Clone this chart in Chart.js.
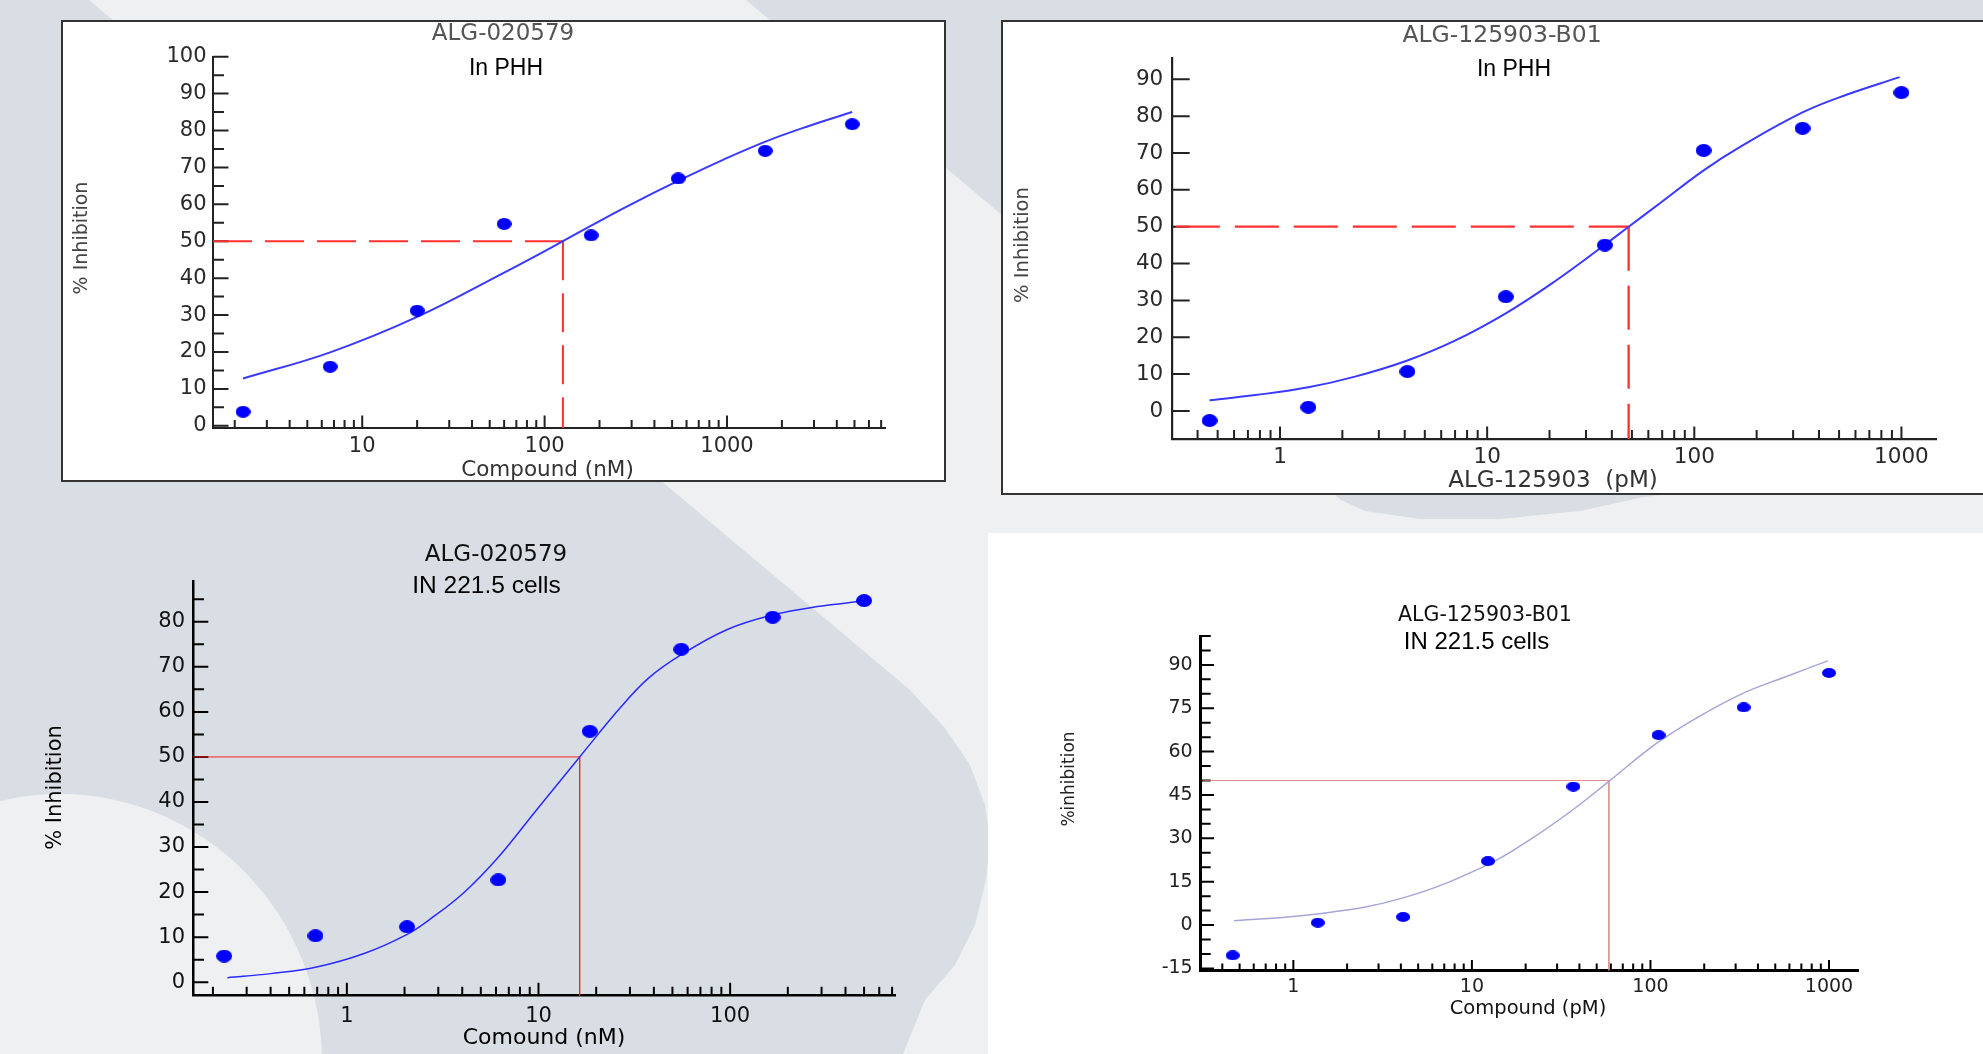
<!DOCTYPE html>
<html>
<head>
<meta charset="utf-8">
<title>Dose-response curves</title>
<script src="https://cdn.jsdelivr.net/npm/chart.js@4.4.1/dist/chart.umd.min.js"></script>
<style>
html, body { margin:0; padding:0; }
body { width:1983px; height:1054px; position:relative; overflow:hidden; background:#eff0f1; }
.shape { position:absolute; left:0; top:0; width:1983px; height:1054px; background:#d9dee4; }
.frame { position:absolute; box-sizing:border-box; border:2px solid #333; background:#fff; }
.plate { position:absolute; background:#fff; }
canvas { position:absolute; }
</style>
</head>
<body>
<div class="shape" style="clip-path:polygon(0 0,89px 0,910px 690px,945px 728px,970px 765px,985px 805px,990px 840px,986px 880px,975px 925px,955px 965px,925px 1000px,903px 1054px,0 1054px);"></div>
<div class="shape" style="clip-path:polygon(746px 0,1983px 0,1983px 480px,1700px 490px,1644px 497px,1580px 511px,1500px 519px,1420px 519px,1365px 511px,1341px 500px);"></div>
<div class="shape" style="left:-202px;top:794px;width:524px;height:536px;border-radius:50%;background:#eff0f1;"></div>
<div class="frame" style="left:61px;top:20px;width:885px;height:462px;"></div>
<div class="frame" style="left:1001px;top:20px;width:1000px;height:475px;"></div>
<div class="plate" style="left:988px;top:533px;width:995px;height:521px;"></div>
<script>
// ================= DATA =================
// Panel 1 : ALG-020579 in PHH
const p1Title = 'ALG-020579';
const p1Sub = 'In PHH';
const p1XTitle = 'Compound (nM)';
const p1YTitle = '% Inhibition';
const p1Conc  = [2.22, 6.67, 20, 60, 180, 540, 1620, 4860];
const p1Inhib = [3.8, 16.0, 31.2, 54.7, 51.6, 67.0, 74.5, 81.7];
const p1FitConc  = [2.22, 6.67, 20, 60, 126, 181, 282, 542, 944, 1625, 2760, 4860];
const p1FitInhib = [12.8, 19.9, 29.5, 41.5, 50.0, 54.3, 59.4, 66.4, 72.0, 77.0, 81.1, 85.0];
const p1IC50 = 126;
const p1XTickLabels = [10, 100, 1000];
const p1YTickLabels = [0, 10, 20, 30, 40, 50, 60, 70, 80, 90, 100];

// Panel 2 : ALG-125903-B01 in PHH
const p2Title = 'ALG-125903-B01';
const p2Sub = 'In PHH';
const p2XTitle = 'ALG-125903  (pM)';
const p2YTitle = '% Inhibition';
const p2Conc  = [0.457, 1.37, 4.12, 12.3, 37, 111, 333, 1000];
const p2Inhib = [-2.6, 1.0, 10.7, 31.0, 45.0, 70.7, 76.7, 86.4];
const p2FitConc  = [0.457, 0.76, 1.37, 2.3, 4.12, 6.95, 12.3, 21, 36.6, 48.2, 68, 111, 168, 333, 543, 980];
const p2FitInhib = [2.9, 4.3, 6.4, 9.3, 13.7, 19.0, 26.5, 35.0, 44.9, 50.0, 56.3, 65.3, 71.8, 81.0, 85.8, 90.6];
const p2IC50 = 48.2;
const p2XTickLabels = [1, 10, 100, 1000];
const p2YTickLabels = [0, 10, 20, 30, 40, 50, 60, 70, 80, 90];

// Panel 3 : ALG-020579 in 221.5 cells
const p3Title = 'ALG-020579';
const p3Sub = 'IN 221.5 cells';
const p3XTitle = 'Comound (nM)';
const p3YTitle = '% Inhibition';
const p3Conc  = [0.229, 0.686, 2.06, 6.17, 18.5, 55.6, 166.7, 500];
const p3Inhib = [5.8, 10.3, 12.3, 22.7, 55.7, 73.9, 81.0, 84.7];
const p3FitConc  = [0.238, 0.40, 0.686, 1.22, 2.04, 2.72, 4.06, 6.1, 9.67, 16.4, 26.7, 37.5, 55.1, 96.7, 166, 286, 498];
const p3FitInhib = [1.0, 1.9, 3.3, 6.3, 10.5, 14.0, 19.8, 27.5, 38.0, 50.0, 60.9, 67.5, 72.6, 78.3, 81.5, 83.4, 84.6];
const p3IC50 = 16.4;
const p3XTickLabels = [1, 10, 100];
const p3YTickLabels = [0, 10, 20, 30, 40, 50, 60, 70, 80];

// Panel 4 : ALG-125903-B01 in 221.5 cells
const p4Title = 'ALG-125903-B01';
const p4Sub = 'IN 221.5 cells';
const p4XTitle = 'Compound (pM)';
const p4YTitle = '%inhibition';
const p4Conc  = [0.457, 1.37, 4.12, 12.3, 37, 111, 333, 1000];
const p4Inhib = [-10.5, 0.8, 2.8, 22.1, 47.9, 65.7, 75.3, 87.2];
const p4FitConc  = [0.466, 1.355, 4.07, 12.1, 21.7, 36.6, 59, 109, 183, 325, 577, 984];
const p4FitInhib = [1.5, 3.8, 9.3, 20.7, 30.0, 39.8, 49.9, 63.0, 71.8, 80.0, 86.0, 91.4];
const p4IC50 = 58.5;
const p4XTickLabels = [1, 10, 100, 1000];
const p4YTickLabels = [-15, 0, 15, 30, 45, 60, 75, 90];

const halfLevel = 50;

// ================= HELPERS =================
function logTicks(min, max) {
  const out = [];
  for (let e = Math.floor(Math.log10(min)); e <= Math.ceil(Math.log10(max)); e++) {
    for (let m = 1; m <= 9; m++) {
      const v = +(m * Math.pow(10, e)).toPrecision(6);
      if (v >= min && v <= max) out.push(v);
    }
  }
  return out;
}
function linTicks(min, max, step) {
  const out = [];
  for (let v = Math.ceil(min / step) * step; v <= max + 1e-9; v += step) out.push(+v.toFixed(6));
  return out;
}
function ellipse(w, h, color) {
  const c = document.createElement('canvas');
  c.width = w; c.height = h;
  const g = c.getContext('2d');
  g.fillStyle = color;
  g.beginPath();
  g.ellipse(w / 2, h / 2, w / 2, h / 2, 0, 0, Math.PI * 2);
  g.fill();
  return c;
}

const innerTicks = {
  id: 'innerTicks',
  beforeDatasetsDraw(chart, args, o) {
    const ctx = chart.ctx, a = chart.chartArea, xs = chart.scales.x, ys = chart.scales.y;
    ctx.save();
    ctx.strokeStyle = o.color; ctx.lineWidth = o.width; ctx.lineCap = 'butt';
    ctx.beginPath();
    ys.ticks.forEach(t => {
      const p = ys.getPixelForValue(t.value);
      const L = t.major ? o.yMajor : o.yMinor;
      ctx.moveTo(a.left, p); ctx.lineTo(a.left + L, p);
    });
    xs.ticks.forEach(t => {
      const p = xs.getPixelForValue(t.value);
      const L = t.major ? o.xMajor : o.xMinor;
      ctx.moveTo(p, a.bottom); ctx.lineTo(p, a.bottom - L);
    });
    ctx.stroke();
    ctx.restore();
  }
};

const textItems = {
  id: 'textItems',
  afterDraw(chart, args, o) {
    const ctx = chart.ctx;
    (o.items || []).forEach(t => {
      ctx.save();
      ctx.font = t.font; ctx.fillStyle = t.color;
      ctx.textAlign = 'center'; ctx.textBaseline = 'middle';
      ctx.translate(t.x, t.y);
      if (t.rot) ctx.rotate(t.rot * Math.PI / 180);
      ctx.fillText(t.text, 0, 0);
      ctx.restore();
    });
  }
};

function panel(P) {
  const cv = document.createElement('canvas');
  cv.width = P.box[2]; cv.height = P.box[3];
  cv.style.left = P.box[0] + 'px'; cv.style.top = P.box[1] + 'px';
  cv.style.width = P.box[2] + 'px'; cv.style.height = P.box[3] + 'px';
  document.body.appendChild(cv);
  const xt = logTicks(P.xMin, P.xMax);
  const yt = linTicks(P.yMin, P.yMax, P.yStep);
  const tickFont = { family: 'DejaVu Sans', size: P.tickSize };
  new Chart(cv, {
    type: 'scatter',
    data: {
      datasets: [
        { data: P.conc.map((c, i) => ({ x: c, y: P.inhib[i] })),
          pointStyle: ellipse(P.dot[0], P.dot[1], P.dotColor), pointRadius: P.dot[0] / 2,
          backgroundColor: P.dotColor, borderWidth: 0 },
        { type: 'line', data: P.fitConc.map((c, i) => ({ x: c, y: P.fitInhib[i] })),
          borderColor: P.curveColor, borderWidth: P.curveWidth, pointRadius: 0,
          tension: 0.4, fill: false },
        { type: 'line', data: [{ x: P.xMin, y: halfLevel }, { x: P.ic50, y: halfLevel }],
          borderColor: P.refColor, borderWidth: P.refWidth, borderDash: P.refDash,
          pointRadius: 0, fill: false },
        { type: 'line', data: [{ x: P.ic50, y: halfLevel }, { x: P.ic50, y: P.yMin }],
          borderColor: P.refColor2 || P.refColor, borderWidth: P.refWidth, borderDash: P.refDash,
          pointRadius: 0, fill: false }
      ]
    },
    options: {
      responsive: false, animation: false, events: [],
      layout: { padding: { left: 0, top: P.padT, right: P.padR, bottom: 0 } },
      plugins: {
        legend: { display: false }, tooltip: { enabled: false }, title: { display: false },
        innerTicks: P.tickMarks,
        textItems: { items: P.texts }
      },
      scales: {
        x: {
          type: 'logarithmic', position: 'bottom', min: P.xMin, max: P.xMax,
          grid: { display: false, drawTicks: false },
          border: { display: true, color: P.axisColor, width: P.axisWidth },
          afterBuildTicks: s => { s.ticks = xt.map(v => ({ value: v, major: P.xLabels.includes(v) })); },
          afterFit: s => { s.height = P.xH; },
          ticks: { autoSkip: false, maxRotation: 0, minRotation: 0, padding: P.xPad,
                   color: P.tickColor, font: tickFont,
                   callback: v => (P.xLabels.includes(v) ? String(v) : '') }
        },
        y: {
          type: 'linear', position: 'left', min: P.yMin, max: P.yMax,
          grid: { display: false, drawTicks: false },
          border: { display: true, color: P.axisColor, width: P.axisWidth },
          afterBuildTicks: s => { s.ticks = yt.map(v => ({ value: v, major: P.yLabels.includes(v) })); },
          afterFit: s => { s.width = P.yW; },
          ticks: { autoSkip: false, padding: P.yPad, color: P.tickColor, font: tickFont,
                   callback: v => (P.yLabels.includes(v) ? String(v) : '') }
        }
      }
    },
    plugins: [innerTicks, textItems]
  });
}

// ================= PANELS =================
panel({
  box: [61, 20, 885, 462], yW: 152, padT: 36.7, padR: 61, xH: 54,
  xMin: 1.52, xMax: 7350, yMin: -0.6, yMax: 100, yStep: 5,
  conc: p1Conc, inhib: p1Inhib, fitConc: p1FitConc, fitInhib: p1FitInhib, ic50: p1IC50,
  xLabels: p1XTickLabels, yLabels: p1YTickLabels,
  tickSize: 21, tickColor: '#2a2a2a', xPad: 6, yPad: 6.5,
  axisColor: '#222', axisWidth: 2,
  tickMarks: { color: '#222', width: 2, yMajor: 15.5, yMinor: 11, xMajor: 12.5, xMinor: 8 },
  dot: [15, 12], dotColor: '#0000ff', curveColor: '#3a3aff', curveWidth: 2,
  refColor: '#ff3030', refWidth: 2, refDash: [39, 13],
  texts: [
    { text: p1Title, x: 442, y: 14.5, font: '23px "DejaVu Sans"', color: '#555' },
    { text: p1Sub, x: 445, y: 49, font: '23px "Liberation Sans"', color: '#000' },
    { text: p1XTitle, x: 486.5, y: 450.5, font: '21.5px "DejaVu Sans"', color: '#333' },
    { text: p1YTitle, x: 21, y: 218, rot: -90, font: '19px "DejaVu Sans"', color: '#444' }
  ]
});

panel({
  box: [1001, 20, 982, 475], yW: 170.7, padT: 38.3, padR: 46.3, xH: 55.7,
  xMin: 0.314, xMax: 1480, yMin: -7.7, yMax: 95.7, yStep: 10,
  conc: p2Conc, inhib: p2Inhib, fitConc: p2FitConc, fitInhib: p2FitInhib, ic50: p2IC50,
  xLabels: p2XTickLabels, yLabels: p2YTickLabels,
  tickSize: 21.5, tickColor: '#2a2a2a', xPad: 5.3, yPad: 8.4,
  axisColor: '#222', axisWidth: 2.2,
  tickMarks: { color: '#222', width: 2, yMajor: 18, yMinor: 10, xMajor: 12.7, xMinor: 9.3 },
  dot: [16, 13], dotColor: '#0000ff', curveColor: '#3a3aff', curveWidth: 2,
  refColor: '#ff3030', refWidth: 2.3, refDash: [44, 15],
  texts: [
    { text: p2Title, x: 501, y: 16, font: '23.5px "DejaVu Sans"', color: '#555' },
    { text: p2Sub, x: 513, y: 49.7, font: '23px "Liberation Sans"', color: '#000' },
    { text: p2XTitle, x: 552, y: 461.5, font: '23px "DejaVu Sans"', color: '#333' },
    { text: p2YTitle, x: 21.5, y: 225, rot: -90, font: '19.5px "DejaVu Sans"', color: '#444' }
  ]
});

panel({
  box: [20, 540, 900, 514], yW: 173.3, padT: 41.7, padR: 25, xH: 58.3,
  xMin: 0.158, xMax: 725, yMin: -3, yMax: 88.9, yStep: 5,
  conc: p3Conc, inhib: p3Inhib, fitConc: p3FitConc, fitInhib: p3FitInhib, ic50: p3IC50,
  xLabels: p3XTickLabels, yLabels: p3YTickLabels,
  tickSize: 21, tickColor: '#111', xPad: 7.8, yPad: 8.3,
  axisColor: '#000', axisWidth: 2.5,
  tickMarks: { color: '#000', width: 2, yMajor: 15, yMinor: 10.7, xMajor: 13, xMinor: 9 },
  dot: [16, 13], dotColor: '#0000ff', curveColor: '#2a2aff', curveWidth: 1.5,
  refColor: '#ff2020', refWidth: 1, refDash: [],
  texts: [
    { text: p3Title, x: 476, y: 15.5, font: '23px "DejaVu Sans"', color: '#111' },
    { text: p3Sub, x: 466.5, y: 46, font: '24.5px "Liberation Sans"', color: '#000' },
    { text: p3XTitle, x: 524, y: 498.5, font: '22px "DejaVu Sans"', color: '#000' },
    { text: p3YTitle, x: 35.5, y: 247.5, rot: -90, font: '21px "DejaVu Sans"', color: '#000' }
  ]
});

panel({
  box: [988, 533, 995, 521], yW: 212, padT: 103, padR: 124.7, xH: 83.3,
  xMin: 0.311, xMax: 1459, yMin: -15.8, yMax: 100, yStep: 5,
  conc: p4Conc, inhib: p4Inhib, fitConc: p4FitConc, fitInhib: p4FitInhib, ic50: p4IC50,
  xLabels: p4XTickLabels, yLabels: p4YTickLabels,
  tickSize: 19, tickColor: '#222', xPad: 5.2, yPad: 7.3,
  axisColor: '#000', axisWidth: 3,
  tickMarks: { color: '#000', width: 2, yMajor: 14, yMinor: 10.7, xMajor: 10.7, xMinor: 7.3 },
  dot: [14, 10], dotColor: '#0000ff', curveColor: '#a5a5d8', curveWidth: 1.5,
  refColor: 'rgba(220,110,110,0.8)', refColor2: 'rgba(210,140,130,0.8)', refWidth: 1, refDash: [],
  texts: [
    { text: p4Title, x: 497, y: 83, font: '20.5px "DejaVu Sans"', color: '#111' },
    { text: p4Sub, x: 488.5, y: 109.5, font: '24px "Liberation Sans"', color: '#000' },
    { text: p4XTitle, x: 540, y: 476.2, font: '19.5px "DejaVu Sans"', color: '#111' },
    { text: p4YTitle, x: 82, y: 246, rot: -90, font: '17px "DejaVu Sans"', color: '#222' }
  ]
});
</script>
</body>
</html>
